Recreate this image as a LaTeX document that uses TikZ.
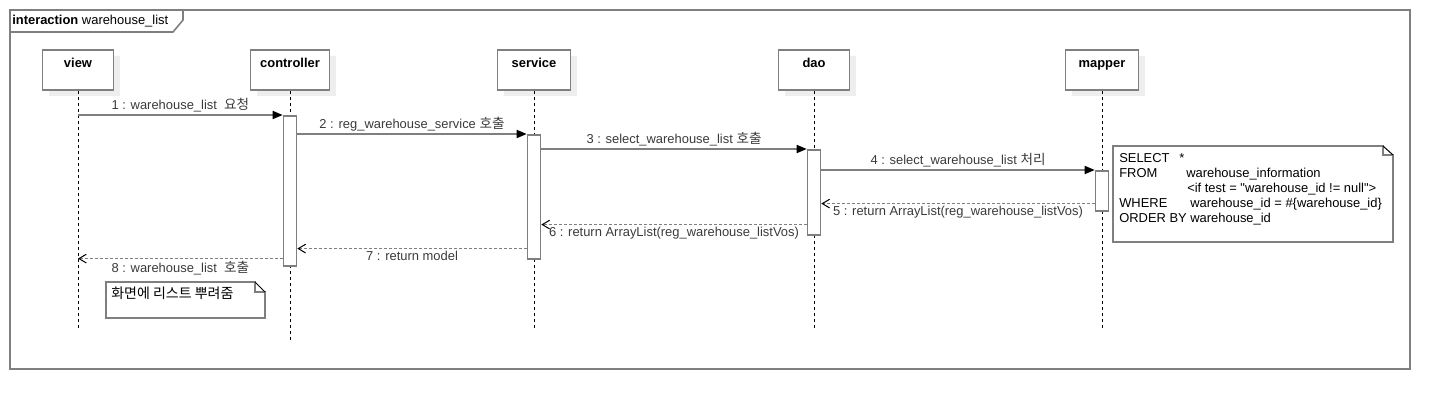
\documentclass[tikz,border=0pt]{standalone}
\usepackage{fontspec}
\setmainfont{Liberation Sans}
\newfontfamily\kr[Scale=1.05]{Noto Sans CJK KR}
\usetikzlibrary{arrows.meta,shadows}
\definecolor{ln}{HTML}{7F7F7F}
\definecolor{tx}{HTML}{3A3A3A}
\definecolor{sh}{HTML}{EEEEEE}
\tikzset{hd/.append style={draw=ln,line width=1.2pt,fill=white,anchor=north,font=\fontsize{9.7}{11}\selectfont\bfseries,
    minimum height=30pt,text height=7pt,text depth=10pt,inner ysep=6.5pt,
    general shadow={fill=sh,draw=none,shadow xshift=5pt,shadow yshift=-5pt}}}
\tikzset{act/.append style={draw=ln,line width=1.2pt,fill=white,anchor=north,minimum width=9.75pt,inner sep=0pt}}
\tikzset{lf/.append style={line width=0.75pt,dash pattern=on 2.25pt off 2.25pt}}
\tikzset{msg/.append style={draw=ln,line width=1.2pt,-{Triangle[length=7.5pt,width=6pt,color=black]}}}
\tikzset{rt/.append style={draw=ln,line width=1.2pt,dash pattern=on 2.25pt off 1.5pt,-{Straight Barb[length=5.5pt,width=6.5pt,line width=0.75pt,color=black]}}}
\tikzset{lb/.append style={text=tx,font=\fontsize{9.7}{11}\selectfont,inner sep=1.5pt}}
\tikzset{nt/.append style={draw=ln,line width=1.2pt}}

\begin{document}
\begin{tikzpicture}[x=0.75pt,y=-0.75pt]
    \useasboundingbox (0,0) rectangle (1450,410);
    % frame
    \draw[nt] (10,10) rectangle (1410,369);
    \draw[nt] (10,32) -- (173,32) -- (183,20) -- (183,10);
    \node[anchor=base west,inner sep=0pt,font=\fontsize{9.7}{11}\selectfont] (ttl) at (12,25) {\textbf{interaction} warehouse\_list};
    % heads
    \node[hd,minimum width=53.25pt] (v) at (78,49) {view};
    \node[hd,minimum width=59.25pt] (c) at (290,49) {controller};
    \node[hd,minimum width=54.75pt] (s) at (534,49) {service};
    \node[hd,minimum width=53.25pt] (d) at (814,49) {dao};
    \node[hd,minimum width=54.75pt] (m) at (1102,49) {mapper};
    \draw[lf] (v.south) -- ++(0,238);
    \draw[lf] (c.south) -- ++(0,249);
    \draw[lf] (s.south) -- ++(0,238);
    \draw[lf] (d.south) -- ++(0,238);
    \draw[lf] (m.south) -- ++(0,238);
    % activations
    \node[act,minimum height=112.5pt] (ca) at (290,115) {};
    \node[act,minimum height=93pt] (sa) at (534,134) {};
    \node[act,minimum height=63.75pt] (da) at (814,149) {};
    \node[act,minimum height=30pt] (ma) at (1102,170) {};
    \path (v |- ca.north) edge[msg] node[lb,above]{1 : warehouse\_list\ \ {\kr 요청}} (ca.north west);
    \path (ca.east |- sa.north) edge[msg] node[lb,above]{2 : reg\_warehouse\_service {\kr 호출}} (sa.north west);
    \path (sa.east |- da.north) edge[msg] node[lb,above]{3 : select\_warehouse\_list {\kr 호출}} (da.north west);
    \path (da.east |- ma.north) edge[msg] node[lb,above]{4 : select\_warehouse\_list {\kr 처리}} (ma.north west);
    \coordinate (r5) at ([yshift=6pt]ma.south west);
    \coordinate (r6) at ([yshift=8.25pt]da.south west);
    \coordinate (r7) at ([yshift=8.25pt]sa.south west);
    \coordinate (r8) at ([yshift=6pt]ca.south west);
    \path (r5) edge[rt] node[lb,below]{5 : return ArrayList(reg\_warehouse\_listVos)} (da.east |- r5);
    \path (r6) edge[rt] node[lb,below]{6 : return ArrayList(reg\_warehouse\_listVos)} (sa.east |- r6);
    \path (r7) edge[rt] node[lb,below]{7 : return model} (ca.east |- r7);
    \path (r8) edge[rt] node[lb,below]{8 : warehouse\_list\ \ {\kr 호출}} (v |- r8);
    % notes
    \draw[nt] (1383,146) -- (1113,146) -- (1113,242) -- (1393,242) -- (1393,155) -- (1383,155) -- cycle;
    \draw[line width=0.75pt] (1383,146) -- (1393,155);
    \node[anchor=north west,inner sep=0pt,align=left,font=\fontsize{9.7}{11.25}\selectfont] (sql) at (1119,153) {%
        \makebox[45pt][l]{SELECT}*\\
        \makebox[50.25pt][l]{FROM}warehouse\_information\\
        \hspace*{51pt}<if test = \textquotedbl warehouse\_id != null\textquotedbl>\\
        \makebox[53.25pt][l]{WHERE}warehouse\_id = \#\{warehouse\_id\}\\
        ORDER BY warehouse\_id};
    \draw[nt] (255,282) -- (106,282) -- (106,318) -- (265,318) -- (265,292) -- (255,292) -- cycle;
    \draw[line width=0.75pt] (255,282) -- (265,292);
    \node[anchor=west,inner sep=0pt,font=\fontsize{10}{11}\selectfont\kr] (nt2) at (111,293) {화면에 리스트 뿌려줌};
\end{tikzpicture}
\end{document}
